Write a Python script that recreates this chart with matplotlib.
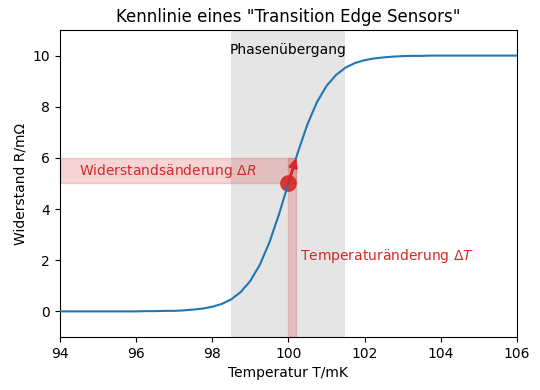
import matplotlib.pyplot as plt
import numpy as np

# Kennlinie (T in mK, R in mOhm)
temperatur = [94.0, 94.25, 94.5, 94.75, 95.0, 95.25, 95.5, 95.75, 96.0, 96.25,
              96.5, 96.75, 97.0, 97.25, 97.5, 97.75, 98.0, 98.25, 98.5, 98.75,
              99.0, 99.25, 99.5, 99.75, 100.0, 100.25, 100.5, 100.75, 101.0, 101.25,
              101.5, 101.75, 102.0, 102.25, 102.5, 102.75, 103.0, 103.25, 103.5, 103.75,
              104.0, 104.25, 104.5, 104.75, 105.0, 105.25, 105.5, 105.75, 106.0]
widerstand = [0.00, 0.00, 0.00, 0.00, 0.00, 0.00, 0.00, 0.00, 0.00, 0.01,
              0.01, 0.02, 0.02, 0.04, 0.07, 0.11, 0.18, 0.29, 0.47, 0.76,
              1.19, 1.82, 2.69, 3.78, 5.00, 6.22, 7.31, 8.18, 8.81, 9.24,
              9.53, 9.71, 9.82, 9.89, 9.93, 9.96, 9.98, 9.99, 9.99, 10.00,
              10.00, 10.00, 10.00, 10.00, 10.00, 10.00, 10.00, 10.00, 10.00]

arbeitspunkt = (100.0, 5.0)
delta_t = 0.2
r_oben = 5.99
phase = (98.5, 101.5)

fig, ax = plt.subplots(figsize=(5.4, 3.9), dpi=100)
fig.subplots_adjust(left=0.111, right=0.957, top=0.923, bottom=0.136)

ax.axvspan(phase[0], phase[1], color='grey', alpha=0.2, lw=0)
ax.text(100, 10.2, "Phasenübergang", ha='center', va='center', fontsize=10)

# Bänder für Delta R und Delta T
ax.fill_between([94, arbeitspunkt[0] + delta_t], arbeitspunkt[1], r_oben,
                color='C3', alpha=0.2, lw=1)
ax.fill_between([arbeitspunkt[0], arbeitspunkt[0] + delta_t], -1, r_oben,
                color='C3', alpha=0.2, lw=1)

ax.plot(arbeitspunkt[0], arbeitspunkt[1], 'o', color='C3', markersize=11, alpha=0.9, zorder=2)
ax.plot(temperatur, widerstand, color='C0', lw=1.5, zorder=3)
ax.annotate("", xy=(arbeitspunkt[0] + delta_t, r_oben), xytext=arbeitspunkt,
            arrowprops=dict(arrowstyle='-|>', color='C3', lw=2, mutation_scale=12,
                            shrinkA=0, shrinkB=0), zorder=4)

ax.text(94.5, 5.5, r"Widerstandsänderung $\Delta R$", color='C3', va='center', fontsize=10)
ax.text(100.3, 2.15, r"Temperaturänderung $\Delta T$", color='C3', va='center', fontsize=10)

ax.set_xlim(94, 106)
ax.set_ylim(-1, 11)
ax.set_yticks([0, 2, 4, 6, 8, 10])
ax.set_xlabel("Temperatur T/mK")
ax.set_ylabel("Widerstand R/mΩ")
ax.set_title('Kennlinie eines "Transition Edge Sensors"')

plt.savefig('out.png', dpi=100)
